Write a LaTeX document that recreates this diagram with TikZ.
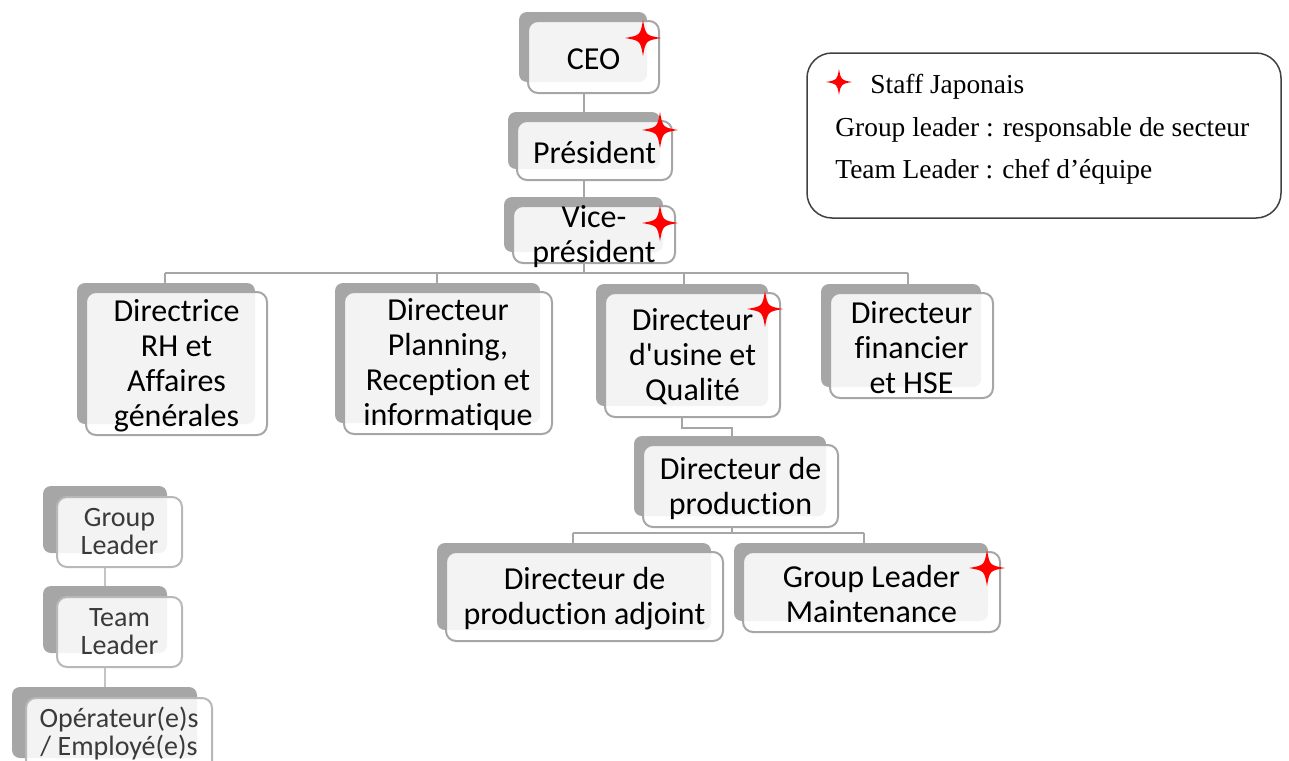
\documentclass[tikz,border=0pt]{standalone}
\usepackage{fontspec}
\setmainfont{Carlito}[Ligatures={TeXOff,NoCommon}]
\newfontfamily\legserif{Liberation Serif}
\usetikzlibrary{fit,backgrounds}
\pgfdeclarelayer{connl}
\pgfsetlayers{connl,background,main}
\definecolor{shadowc}{HTML}{A6A6A6}
\definecolor{borderc}{HTML}{A6A6A6}
\definecolor{connc}{HTML}{A6A6A6}
\definecolor{lconnc}{HTML}{C4C4C4}
\definecolor{smalltext}{HTML}{3A3A3A}
\definecolor{legline}{HTML}{404040}
\definecolor{starred}{HTML}{FF0000}
\tikzset{
 frontbox/.style={draw=borderc, line width=1pt, fill=white, fill opacity=0.87, rounded corners=5pt, inner sep=0pt},
 shadowbox/.style={fill=shadowc, rounded corners=4pt},
 maintext/.style={font=\fontsize{16}{17.5}\selectfont, align=center, inner sep=0pt, text=black},
 smalltxt/.style={font=\fontsize{14}{14}\selectfont, align=center, inner sep=0pt, text=smalltext},
 conn/.style={draw=connc, line width=1pt},
 lconn/.style={draw=lconnc, line width=0.8pt},
 legtext/.style={font=\legserif\fontsize{13.7}{15}\selectfont, anchor=west, inner sep=0pt},
 legendbox/.style={draw=legline, line width=0.75pt, rounded corners=12.5pt, inner sep=0pt},
}
% name, x1, y1, x2, y2, text
\newcommand{\obox}[6]{%
 \coordinate (#1-a) at (#2,#3); \coordinate (#1-b) at (#4,#5);
 \node[frontbox, fit=(#1-a)(#1-b)] (#1) {};
 \begin{pgfonlayer}{background}
 \fill[shadowbox] ([shift={(-8,-8)}]#1.north west) rectangle ([shift={(-13,-12)}]#1.south east);
 \end{pgfonlayer}
 \node[maintext] (#1-t) at ([yshift=-1pt]#1.center) {#6};
}
\newcommand{\lbox}[5]{%
 \coordinate (#1-a) at (#2,#3); \coordinate (#1-b) at (#4,#5);
 \node[frontbox, draw=borderc!80, fit=(#1-a)(#1-b)] (#1) {};
 \begin{pgfonlayer}{background}
 \fill[shadowbox] ([shift={(-13,-10)}]#1.north west) rectangle ([shift={(-16,-15)}]#1.south east);
 \end{pgfonlayer}
}
% x, y, r
\newcommand{\jstar}[3]{%
 \begin{scope}[shift={(#1,#2)}]
 \fill[starred] (0,-#3) .. controls (0.15*#3,-0.15*#3) .. (#3,0)
   .. controls (0.15*#3,0.15*#3) .. (0,#3)
   .. controls (-0.15*#3,0.15*#3) .. (-#3,0)
   .. controls (-0.15*#3,-0.15*#3) .. cycle;
 \end{scope}
}
\begin{document}
\begin{tikzpicture}[x=0.5pt,y=-0.5pt]
\useasboundingbox (0,0) rectangle (1289,760);

% main tree
\obox{ceo}{528}{21}{659}{93}{CEO}
\obox{pres}{517}{121}{672}{180}{Président}
\obox{vp}{513}{206}{675}{263}{Vice-\\président}
\obox{drh}{86}{292}{267}{435}{Directrice\\RH et\\Affaires\\générales}
\obox{dpl}{344}{292}{552}{434}{Directeur\\Planning,\\Reception et\\informatique}
\obox{dus}{605}{293}{780}{417}{Directeur\\d'usine et\\Qualité}
\obox{dfi}{830}{293}{993}{398}{Directeur\\financier\\et HSE}
\obox{dpr}{643}{445}{838}{527}{Directeur de\\production}
\obox{dpa}{446}{552}{723}{641}{Directeur de\\production adjoint}
\obox{glm}{743}{552}{1000}{632}{Group Leader\\Maintenance}

% small legend chain
\lbox{lgl}{57}{497}{182}{567}
\node[smalltxt] (lgl-t) at (lgl.center) {Group\\Leader};
\lbox{ltl}{57}{597}{182}{667}
\node[smalltxt] (ltl-t) at (ltl.center) {Team\\Leader};
\lbox{lop}{26}{698}{212}{772}
\node[smalltxt] (lop-t) at (119,733.5) {Opérateur(e)s\\/ Employé(e)s};

% connectors
\coordinate (busL) at (165,273);
\coordinate (busR) at (908,273);
\coordinate (bus2) at (437,273);
\coordinate (bus3) at (684,273);
\coordinate (k1) at (682,428);
\coordinate (k2) at (732,428);
\coordinate (b2L) at (573,533);
\coordinate (b2R) at (864,533);
\coordinate (b2m) at (732,533);
\begin{pgfonlayer}{connl}
\draw[conn] ([xshift=-5pt]ceo.south) -- ([xshift=-5pt]ceo.south |- pres.north);
\draw[conn] ([xshift=-5.25pt]pres.south) -- ([xshift=-5.25pt]pres.south |- vp.north);
\draw[conn] ([xshift=-5pt]vp.south) -- ([xshift=-5pt]vp.south |- busL);
\draw[conn] (busL) -- (busR);
\draw[conn] (busL) -- (busL |- drh.north);
\draw[conn] (bus2) -- (bus2 |- dpl.north);
\draw[conn] (bus3) -- (bus3 |- dus.north);
\draw[conn] (busR) -- (busR |- dfi.north);
\draw[conn] (k1 |- dus.south) -- (k1) -- (k2) -- (k2 |- dpr.north);
\draw[conn] (b2m |- dpr.south) -- (b2m);
\draw[conn] (b2L) -- (b2R);
\draw[conn] (b2L) -- (b2L |- dpa.north);
\draw[conn] (b2R) -- (b2R |- glm.north);
\draw[lconn] ([xshift=-7.25pt]lgl.south) -- ([xshift=-7.25pt]lgl.south |- ltl.north);
\draw[lconn] ([xshift=-7.25pt]ltl.south) -- ([xshift=-7.25pt]ltl.south |- lop.north);
\end{pgfonlayer}

% stars
\jstar{643}{38}{18}
\jstar{660}{130}{18}
\jstar{660}{223}{18}
\jstar{765}{309}{18}
\jstar{987}{568}{18}

% legend
\coordinate (leg-a) at (807,53);
\coordinate (leg-b) at (1281,218);
\node[legendbox, fit=(leg-a)(leg-b)] (legend) {};
\jstar{839}{82}{13}
\node[legtext] (leg1) at (870,87) {Staff Japonais};
\node[legtext] (leg2) at (835,130) {Group leader : responsable de secteur};
\node[legtext] (leg3) at (835,172) {Team Leader : chef d’équipe};
\end{tikzpicture}
\end{document}
